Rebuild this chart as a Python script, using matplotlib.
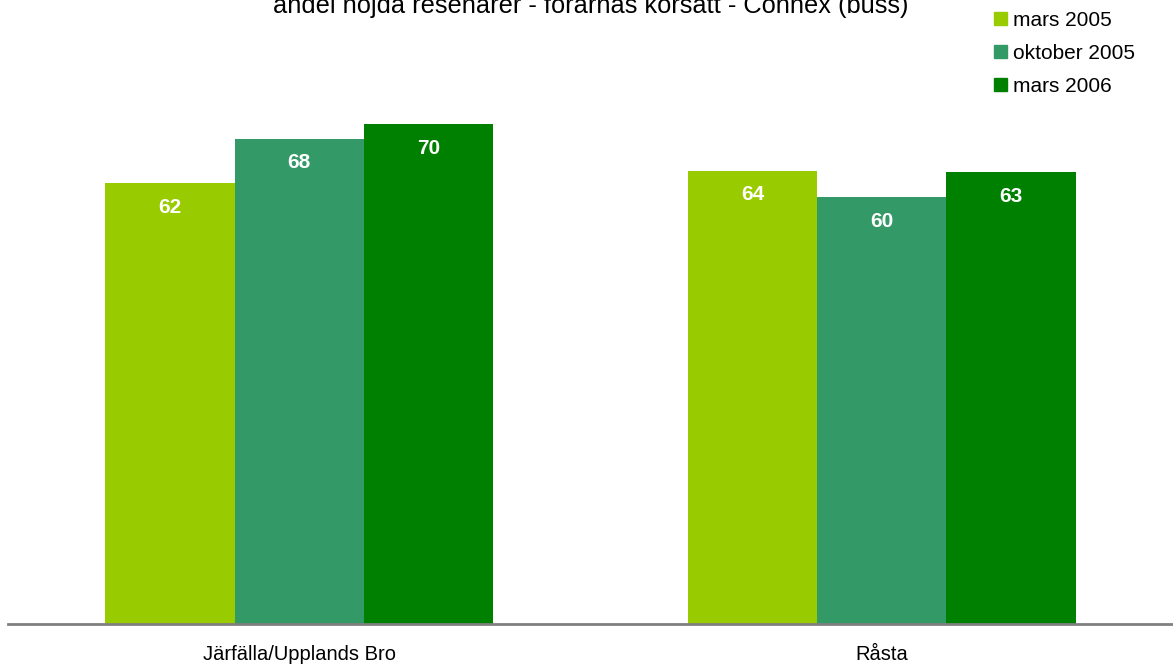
import matplotlib
matplotlib.use("Agg")
import matplotlib.pyplot as plt
import matplotlib.transforms as mtransforms
import numpy as np

plt.rcParams['font.family'] = ['Liberation Sans', 'DejaVu Sans']

categories = ["Järfälla/Upplands Bro", "Råsta"]
series_names = ["mars 2005", "oktober 2005", "mars 2006"]
values = {
    "mars 2005": [61.8, 63.5],
    "oktober 2005": [68.0, 59.8],
    "mars 2006": [70.0, 63.3],
}
colors = ["#99CC00", "#339966", "#008000"]
title = "andel nöjda resenärer - förarnas körsätt - Connex (buss)"

W, H = 1173, 668
fig = plt.figure(figsize=(W / 100, H / 100), dpi=100)
ax = fig.add_axes([8 / W, 1 - 624 / H, 1 - 8 / W, 624 / H])

x = np.arange(len(categories))
w = 0.222
for i, name in enumerate(series_names):
    pos = x + (i - 1) * w
    bars = ax.bar(pos, values[name], width=w, color=colors[i], label=name)
    for b, v in zip(bars, values[name]):
        ax.text(b.get_x() + b.get_width() / 2, v - 3.4, f"{v:.0f}", ha='center', va='center',
                color='white', fontweight='bold', fontsize=15)

ax.set_xlim(-0.5, 1.5)
ax.set_ylim(0, 87.4)
for s in ['top', 'right', 'left']:
    ax.spines[s].set_visible(False)
ax.spines['bottom'].set_color('#808080')
ax.spines['bottom'].set_linewidth(2)
ax.set_yticks([])
ax.set_xticks([])

trans = mtransforms.blended_transform_factory(ax.transData, fig.transFigure)
for xi, cat in zip(x, categories):
    ax.text(xi, 1 - 660 / H, cat, ha='center', va='baseline', fontsize=14.5,
            transform=trans, clip_on=False)

fig.text(591 / W, 1 - 13 / H, title, ha='center', va='baseline', fontsize=18.3)

handles = [plt.Rectangle((0, 0), 1, 1, color=c) for c in colors]
fig.legend(handles, series_names, loc='upper left', bbox_to_anchor=(990 / W, 1 - 7 / H),
           frameon=False, fontsize=15, handlelength=0.6, handleheight=0.6,
           handletextpad=0.3, labelspacing=0.67, borderaxespad=0, borderpad=0.2)

fig.savefig("out.png", dpi=100)
